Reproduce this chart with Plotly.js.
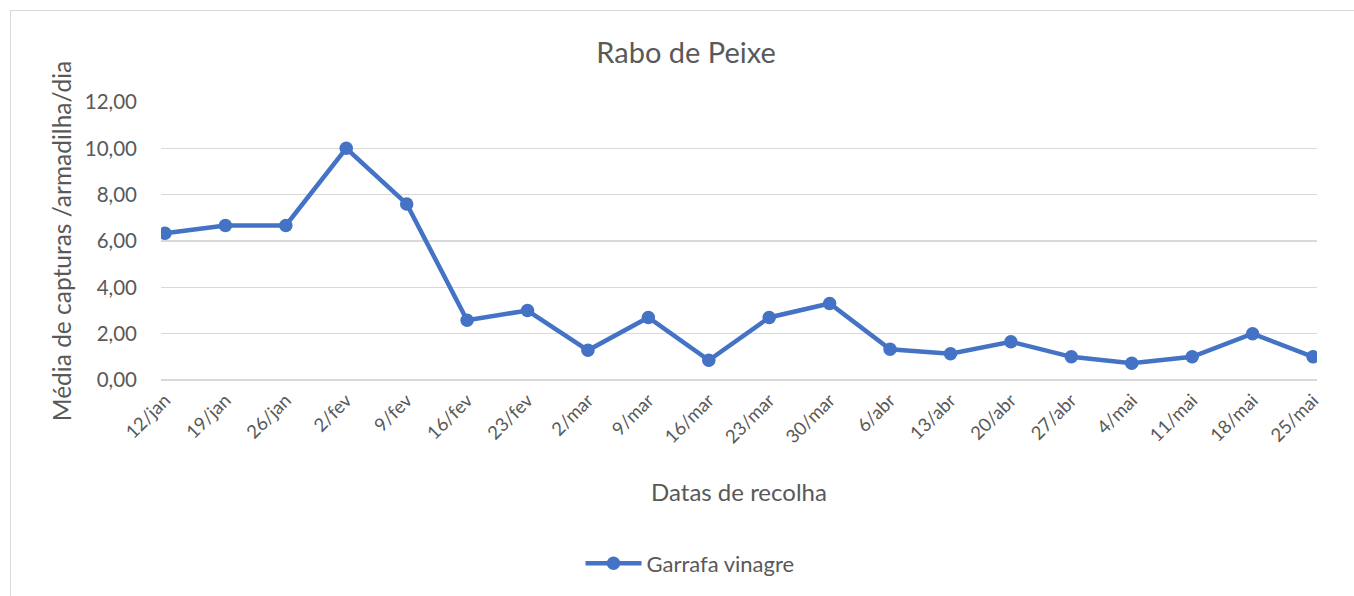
<!DOCTYPE html>
<html>
<head>
<meta charset="utf-8">
<script src="https://cdn.plot.ly/plotly-3.0.1.min.js"></script>
<style>
  html, body { margin: 0; padding: 0; background: #fff; }
  #frame { position: absolute; left: 10px; top: 10px; width: 1360px; height: 600px; border: 1px solid #d9d9d9; box-sizing: border-box; }
  #chart { position: absolute; left: 0; top: 0; width: 1354px; height: 596px; }
</style>
</head>
<body>
<div id="frame"></div>
<div id="chart"></div>
<script>
const categories = ["12/jan","19/jan","26/jan","2/fev","9/fev","16/fev","23/fev","2/mar","9/mar","16/mar",
                    "23/mar","30/mar","6/abr","13/abr","20/abr","27/abr","4/mai","11/mai","18/mai","25/mai"];
const garrafaVinagre = [6.33, 6.67, 6.67, 10.0, 7.6, 2.58, 3.0, 1.28, 2.7, 0.85,
                        2.7, 3.3, 1.33, 1.13, 1.65, 1.0, 0.72, 1.0, 2.0, 1.0];
const seriesName = "Garrafa vinagre";
const chartTitle = "Rabo de Peixe";
const xTitle = "Datas de recolha";
const yTitle = "Média de capturas /armadilha/dia";

const FONT = "Lato, 'Open Sans', sans-serif";
const GREY = "#595959";

const trace = {
  x: categories,
  y: garrafaVinagre,
  name: seriesName,
  type: "scatter",
  mode: "lines+markers",
  line: { color: "#4472C4", width: 4.5 },
  marker: { color: "#4472C4", size: 13.5 },
  showlegend: true
};

const layout = {
  width: 1354,
  height: 596,
  paper_bgcolor: "rgba(0,0,0,0)",
  plot_bgcolor: "rgba(0,0,0,0)",
  separators: ",.",
  margin: { l: 161, r: 37, t: 102, b: 216 },
  font: { family: FONT, color: GREY },
  title: { text: chartTitle, font: { family: FONT, size: 29, color: GREY }, x: 0.5067, xanchor: "center", y: 0.912, yanchor: "middle" },
  xaxis: {
    type: "category",
    range: [-0.066, 19.066],
    showgrid: false,
    zeroline: false,
    showline: false,
    ticks: "",
    tickangle: -45,
    ticklabelstandoff: 5,
    tickfont: { family: FONT, size: 18.5, color: GREY },
    title: { text: xTitle, font: { family: FONT, size: 24, color: GREY }, standoff: 37 },
    automargin: false,
    fixedrange: true
  },
  yaxis: {
    range: [0, 12],
    dtick: 2,
    tick0: 0,
    tickformat: ".2f",
    showgrid: true,
    gridcolor: "#d9d9d9",
    gridwidth: 1.3,
    zeroline: true,
    zerolinecolor: "#d9d9d9",
    zerolinewidth: 1.3,
    showline: false,
    ticks: "",
    ticklabelstandoff: 23,
    tickfont: { family: FONT, size: 20.5, color: GREY },
    title: { text: yTitle, font: { family: FONT, size: 24.5, color: GREY }, standoff: 6 },
    automargin: false,
    fixedrange: true
  },
  legend: {
    orientation: "h",
    x: 0.4576, xanchor: "center",
    y: -0.66, yanchor: "middle",
    font: { family: FONT, size: 22, color: GREY },
    itemwidth: 56
  },
  showlegend: true
};

Plotly.newPlot("chart", [trace], layout, { displayModeBar: false, staticPlot: true });
</script>
</body>
</html>
